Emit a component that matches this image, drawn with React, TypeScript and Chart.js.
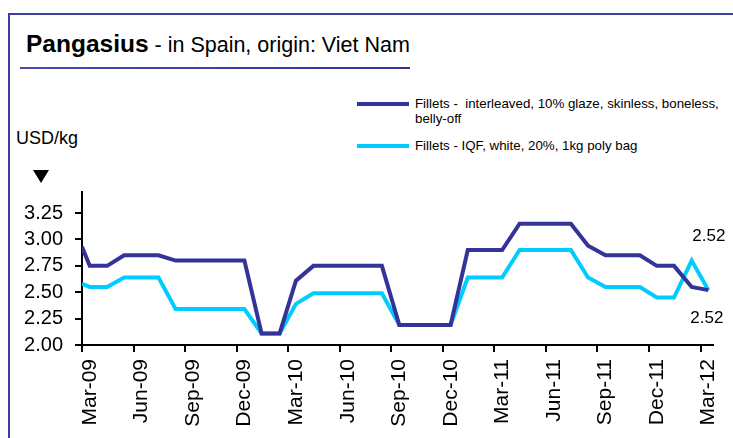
import React, { useEffect, useRef } from "react";
import { Chart, registerables } from "chart.js";

Chart.register(...registerables);

// Observation dates (first value at start of March 2009, then mid-month prices)
const dates = [
  "2009-03-01", "2009-03-15", "2009-04-15", "2009-05-15", "2009-06-15", "2009-07-15",
  "2009-08-15", "2009-09-15", "2009-10-15", "2009-11-15", "2009-12-15",
  "2010-01-15", "2010-02-15", "2010-03-15", "2010-04-15", "2010-05-15", "2010-06-15",
  "2010-07-15", "2010-08-15", "2010-09-15", "2010-10-15", "2010-11-15", "2010-12-15",
  "2011-01-15", "2011-02-15", "2011-03-15", "2011-04-15", "2011-05-15", "2011-06-15",
  "2011-07-15", "2011-08-15", "2011-09-15", "2011-10-15", "2011-11-15", "2011-12-15",
  "2012-01-15", "2012-02-15", "2012-03-15",
];

// Fillets - interleaved, 10% glaze, skinless, boneless, belly-off (USD/kg)
const interleaved = [
  2.93, 2.75, 2.75, 2.85, 2.85, 2.85, 2.80, 2.80, 2.80, 2.80, 2.80,
  2.11, 2.11, 2.61, 2.75, 2.75, 2.75, 2.75, 2.75, 2.19, 2.19, 2.19, 2.19,
  2.90, 2.90, 2.90, 3.15, 3.15, 3.15, 3.15, 2.94, 2.85, 2.85, 2.85, 2.75,
  2.75, 2.55, 2.52,
];

// Fillets - IQF, white, 20%, 1kg poly bag (USD/kg)
const iqf = [
  2.58, 2.55, 2.55, 2.64, 2.64, 2.64, 2.34, 2.34, 2.34, 2.34, 2.34,
  2.11, 2.11, 2.39, 2.49, 2.49, 2.49, 2.49, 2.49, 2.19, 2.19, 2.19, 2.19,
  2.64, 2.64, 2.64, 2.90, 2.90, 2.90, 2.90, 2.64, 2.55, 2.55, 2.55, 2.45,
  2.45, 2.80, 2.52,
];

const xTickLabels = [
  "Mar-09", "Jun-09", "Sep-09", "Dec-09", "Mar-10", "Jun-10", "Sep-10",
  "Dec-10", "Mar-11", "Jun-11", "Sep-11", "Dec-11", "Mar-12",
];

const yTicks = [2.0, 2.25, 2.5, 2.75, 3.0, 3.25];

const seriesNames = [
  "Fillets -  interleaved, 10% glaze, skinless, boneless, belly-off",
  "Fillets - IQF, white, 20%, 1kg poly bag",
];

const DARK = "#333399";
const LIGHT = "#00CCFF";
const FONT = "'Liberation Sans', Arial, sans-serif";

// months elapsed since 1 March 2009
function monthOffset(d: string): number {
  const [y, m, day] = d.split("-").map(Number);
  const dim = new Date(y, m, 0).getDate();
  return (y - 2009) * 12 + (m - 3) + (day - 1) / dim;
}

const endLabelPlugin = {
  id: "endLabels",
  afterDatasetsDraw(chart: any) {
    const ctx = chart.ctx;
    ctx.save();
    ctx.font = `17px ${FONT}`;
    ctx.fillStyle = "#000";
    ctx.textAlign = "right";
    ctx.textBaseline = "middle";
    chart.data.datasets.forEach((ds: any, i: number) => {
      const meta = chart.getDatasetMeta(i);
      const pt = meta.data[meta.data.length - 1];
      const v = ds.data[ds.data.length - 1].y;
      const dy = i === 0 ? -54 : 28;
      const dx = i === 0 ? 17 : 15;
      ctx.fillText(v.toFixed(2), pt.x + dx, pt.y + dy);
    });
    ctx.restore();
  },
};

export default function App() {
  const ref = useRef<HTMLCanvasElement>(null);

  useEffect(() => {
    if (!ref.current) return;
    const xs = dates.map(monthOffset);
    const chart = new Chart(ref.current, {
      type: "line",
      data: {
        datasets: [
          {
            label: seriesNames[0],
            data: xs.map((x, i) => ({ x, y: interleaved[i] })),
            borderColor: DARK,
            backgroundColor: DARK,
            borderWidth: 4,
            pointRadius: 0,
            tension: 0,
          },
          {
            label: seriesNames[1],
            data: xs.map((x, i) => ({ x, y: iqf[i] })),
            borderColor: LIGHT,
            backgroundColor: LIGHT,
            borderWidth: 4,
            pointRadius: 0,
            tension: 0,
          },
        ],
      },
      options: {
        responsive: false,
        animation: false,
        devicePixelRatio: 1,
        layout: { padding: { top: 192, right: 11, left: 0, bottom: 0 } },
        plugins: { legend: { display: false }, tooltip: { enabled: false } },
        scales: {
          x: {
            type: "linear",
            min: 0,
            max: 36.75,
            afterBuildTicks: (s: any) => {
              s.ticks = xTickLabels.map((_, i) => ({ value: i * 3 }));
            },
            afterFit: (s: any) => {
              s.height = 93;
            },
            ticks: {
              callback: (v: any) => xTickLabels[Math.round(Number(v) / 3)],
              minRotation: 90,
              maxRotation: 90,
              autoSkip: false,
              font: { family: FONT, size: 21 },
              color: "#000",
              padding: 7,
              labelOffset: 8,
            },
            grid: {
              drawOnChartArea: false,
              drawTicks: true,
              tickLength: 7,
              color: "#000",
              lineWidth: 2,
            },
            border: { color: "#000", width: 2 },
          },
          y: {
            min: 2,
            max: 3.45,
            afterBuildTicks: (s: any) => {
              s.ticks = yTicks.map((v) => ({ value: v }));
            },
            afterFit: (s: any) => {
              s.width = 82;
            },
            ticks: {
              callback: (v: any) => Number(v).toFixed(2),
              font: { family: FONT, size: 20 },
              color: "#000",
              padding: 12,
            },
            grid: {
              drawOnChartArea: false,
              drawTicks: true,
              tickLength: 7,
              color: "#000",
              lineWidth: 2,
            },
            border: { color: "#000", width: 2 },
          },
        },
      },
      plugins: [endLabelPlugin],
    });
    return () => chart.destroy();
  }, []);

  return (
    <div
      style={{
        position: "fixed",
        left: 0,
        top: 0,
        width: 733,
        height: 438,
        overflow: "hidden",
        background: "#fff",
        fontFamily: FONT,
        color: "#000",
      }}
    >
      <div
        style={{
          position: "absolute",
          left: 8,
          top: 13,
          width: 800,
          height: 500,
          borderLeft: "2px solid #3d3da3",
          borderTop: "2px solid #3d3da3",
        }}
      />
      <div
        style={{
          position: "absolute",
          left: 26,
          top: 30,
          whiteSpace: "nowrap",
          lineHeight: "28px",
        }}
      >
        <span style={{ fontWeight: "bold", fontSize: 24.5 }}>Pangasius</span>
        <span style={{ fontSize: 21.5 }}> - in Spain, origin: Viet Nam</span>
      </div>
      <div
        style={{
          position: "absolute",
          left: 20,
          top: 67,
          width: 390,
          height: 2,
          background: "linear-gradient(to right, #4a4aa8, #333399)",
        }}
      />
      <div
        style={{
          position: "absolute",
          left: 357,
          top: 102,
          width: 52,
          height: 4,
          background: DARK,
        }}
      />
      <div
        style={{
          position: "absolute",
          left: 415,
          top: 96,
          fontSize: 13.3,
          lineHeight: "15px",
          whiteSpace: "nowrap",
        }}
      >
        Fillets -&nbsp; interleaved, 10% glaze, skinless, boneless,
        <br />
        belly-off
      </div>
      <div
        style={{
          position: "absolute",
          left: 357,
          top: 144,
          width: 52,
          height: 4,
          background: LIGHT,
        }}
      />
      <div
        style={{
          position: "absolute",
          left: 415,
          top: 138,
          fontSize: 13.3,
          lineHeight: "15px",
          whiteSpace: "nowrap",
        }}
      >
        {seriesNames[1]}
      </div>
      <div
        style={{
          position: "absolute",
          left: 16,
          top: 127,
          fontSize: 18,
          lineHeight: "22px",
        }}
      >
        USD/kg
      </div>
      <div
        style={{
          position: "absolute",
          left: 33,
          top: 170,
          width: 0,
          height: 0,
          borderLeft: "8px solid transparent",
          borderRight: "8px solid transparent",
          borderTop: "13px solid #000",
        }}
      />
      <canvas
        ref={ref}
        width={733}
        height={438}
        style={{ position: "absolute", left: 0, top: 0 }}
      />
    </div>
  );
}
